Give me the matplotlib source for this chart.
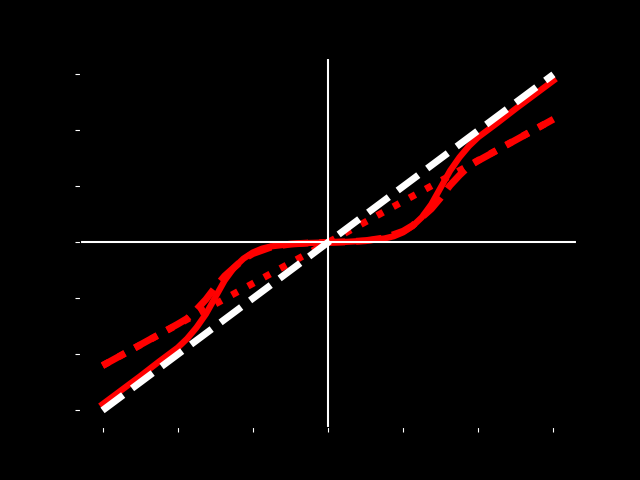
import numpy as np
import matplotlib
matplotlib.use('Agg')
from matplotlib import pyplot as plt

# identity line
x_id = [-3, 3]
y_id = [-3, 3]

# smooth threshold (solid red)
x_solid = [-3.0, -2.75, -2.5, -2.25, -2.0, -1.875, -1.75, -1.625, -1.5, -1.375, -1.25, -1.125,
           -1.0, -0.875, -0.75, -0.5, -0.25,
           0.0, 0.25, 0.5, 0.75, 0.875, 1.0, 1.125, 1.25, 1.375, 1.5, 1.625, 1.75, 1.875,
           2.0, 2.25, 2.5, 2.75, 3.0]
y_solid = [-2.89, -2.64, -2.39, -2.13, -1.88, -1.72, -1.52, -1.28, -0.98, -0.68, -0.45, -0.29,
           -0.18, -0.11, -0.07, -0.03, -0.01,
           0.0, 0.01, 0.03, 0.07, 0.11, 0.18, 0.29, 0.45, 0.68, 0.98, 1.28, 1.52, 1.72,
           1.88, 2.13, 2.39, 2.64, 2.89]

# shrunk threshold (dashed red)
x_dash = [-3.0, -2.5, -2.0, -1.875, -1.75, -1.625, -1.5, -1.375, -1.25, -1.125, -1.0, -0.75, -0.5, -0.25,
          0.0, 0.25, 0.5, 0.75, 1.0, 1.125, 1.25, 1.375, 1.5, 1.625, 1.75, 1.875, 2.0, 2.5, 3.0]
y_dash = [-2.2, -1.83, -1.46, -1.36, -1.2, -1.02, -0.8, -0.6, -0.45, -0.3, -0.2, -0.08, -0.03, -0.01,
          0.0, 0.01, 0.03, 0.08, 0.2, 0.3, 0.45, 0.6, 0.8, 1.02, 1.2, 1.36, 1.46, 1.83, 2.2]

# linear shrink (dotted red)
x_dot = [-3, 3]
y_dot = [-2.2, 2.2]

ticks = [-3, -2, -1, 0, 1, 2, 3]

fig = plt.figure(figsize=(6.4, 4.8), facecolor='black')
ax = fig.add_subplot(111)
ax.set_facecolor('black')

ax.plot(x_solid, y_solid, color='red', lw=4.5, solid_joinstyle='round')
ax.plot(x_dash, y_dash, color='red', lw=5, ls='--')
ax.plot(x_dot, y_dot, color='red', lw=5, ls=':')
ax.plot(x_id, y_id, color='white', lw=5, ls='--')

ax.axhline(0, color='white', lw=1.5)
ax.axvline(0, color='white', lw=1.5)

ax.set_xticks(ticks)
ax.set_yticks(ticks)
ax.tick_params(colors='white', labelcolor='black')
for s in ax.spines.values():
    s.set_color('black')

plt.savefig('out.png', facecolor='black')
